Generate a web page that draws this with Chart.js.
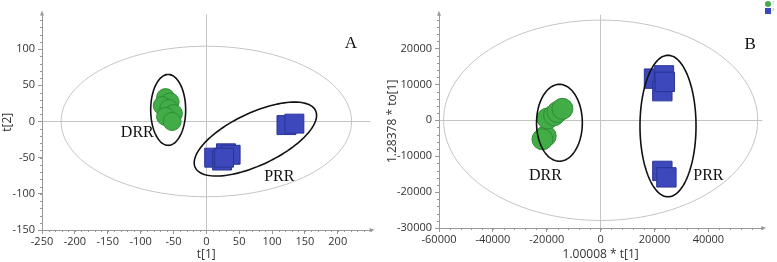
<!DOCTYPE html>
<html>
<head>
<meta charset="utf-8">
<script src="https://cdn.jsdelivr.net/npm/chart.js@4.4.0/dist/chart.umd.min.js"></script>
<style>
  body { margin: 0; background: #fff; }
  #wrap { position: relative; width: 777px; height: 262px; }
  #scoreA { position: absolute; left: 0; top: 0; }
  #scoreB { position: absolute; left: 385px; top: 0; }
</style>
</head>
<body>
<div id="wrap">
  <canvas id="scoreA" width="385" height="262"></canvas>
  <canvas id="scoreB" width="392" height="262"></canvas>
</div>
<script>
// panel A (PCA scores)
const drrT1A = [-62, -55, -67, -57, -50, -62, -52];
const drrT2A = [33, 27, 22, 18, 11, 7, 0];
const prrT1A = [12, 24, 30, 37, 27, 122, 134];
const prrT2A = [-50, -54, -44, -46, -50, -5, -3];
const ticksXA = [-250, -200, -150, -100, -50, 0, 50, 100, 150, 200];
const ticksYA = [-150, -100, -50, 0, 50, 100];

// panel B (OPLS-DA scores)
const drrT1B = [-20400, -21600, -19700, -17300, -16000, -14200];
const drrT2B = [-4400, -5300, 500, 1400, 2300, 3200];
const prrT1B = [19800, 23500, 22900, 23800, 22900, 24400];
const prrT2B = [11600, 12500, 8100, 10700, -14100, -15900];
const ticksXB = [-60000, -40000, -20000, 0, 20000, 40000];
const ticksYB = [-30000, -20000, -10000, 0, 10000, 20000];

const groupNames = ['1', '2'];
const groupLabels = ['DRR', 'PRR'];

const green = 'rgb(66,172,70)';
const greenEdge = 'rgb(48,140,55)';
const blue = 'rgb(60,72,188)';
const blueEdge = 'rgb(42,52,150)';
const axisGrey = '#999';
const tickFont = { family: 'Open Sans', size: 11 };

function pts(xs, ys) {
  return xs.map((x, i) => ({ x: x, y: ys[i] }));
}

function ellipse(ctx, chart, e) {
  const xs = chart.scales.x, ys = chart.scales.y;
  ctx.beginPath();
  for (let i = 0; i <= 120; i++) {
    const t = i / 120 * Math.PI * 2;
    const dx = e.c[0] + e.u[0] * Math.cos(t) + e.v[0] * Math.sin(t);
    const dy = e.c[1] + e.u[1] * Math.cos(t) + e.v[1] * Math.sin(t);
    const px = xs.getPixelForValue(dx), py = ys.getPixelForValue(dy);
    if (i === 0) ctx.moveTo(px, py); else ctx.lineTo(px, py);
  }
  ctx.closePath();
  ctx.stroke();
}

const overlay = {
  id: 'overlay',
  beforeDatasetsDraw(chart, args, o) {
    const ctx = chart.ctx, a = chart.chartArea;
    const xs = chart.scales.x, ys = chart.scales.y;
    ctx.save();
    // Hotelling T2 ellipse
    ctx.strokeStyle = '#c4c4c4';
    ctx.lineWidth = 1;
    ellipse(ctx, chart, o.hotelling);
    // minor ticks
    ctx.strokeStyle = axisGrey;
    ctx.beginPath();
    for (let v = xs.min; v <= xs.max; v += o.minorX) {
      const p = Math.round(xs.getPixelForValue(v)) + 0.5;
      ctx.moveTo(p, a.bottom); ctx.lineTo(p, a.bottom + 2);
    }
    for (let v = ys.min; v <= ys.max; v += o.minorY) {
      const p = Math.round(ys.getPixelForValue(v)) + 0.5;
      ctx.moveTo(a.left, p); ctx.lineTo(a.left - 2, p);
    }
    ctx.stroke();
    // arrow heads
    ctx.fillStyle = axisGrey;
    ctx.beginPath();
    ctx.moveTo(a.left, a.top - 4); ctx.lineTo(a.left - 2, a.top + 1); ctx.lineTo(a.left + 2, a.top + 1);
    ctx.closePath(); ctx.fill();
    ctx.beginPath();
    ctx.moveTo(a.right + 4, a.bottom); ctx.lineTo(a.right - 1, a.bottom - 2); ctx.lineTo(a.right - 1, a.bottom + 2);
    ctx.closePath(); ctx.fill();
    ctx.restore();
  },
  afterDatasetsDraw(chart, args, o) {
    const ctx = chart.ctx;
    const xs = chart.scales.x, ys = chart.scales.y;
    ctx.save();
    ctx.strokeStyle = '#111';
    ctx.lineWidth = 1.6;
    o.groups.forEach(g => ellipse(ctx, chart, g));
    ctx.fillStyle = '#111';
    ctx.textAlign = 'center';
    ctx.textBaseline = 'middle';
    ctx.font = '16px "Liberation Serif"';
    o.texts.forEach(t => ctx.fillText(t.s, xs.getPixelForValue(t.x), ys.getPixelForValue(t.y)));
    ctx.font = '17px "Liberation Serif"';
    ctx.fillText(o.panel.s, xs.getPixelForValue(o.panel.x), ys.getPixelForValue(o.panel.y));
    if (o.legend) {
      const w = chart.width;
      ctx.fillStyle = green;
      ctx.beginPath(); ctx.arc(w - 9, 4, 3, 0, Math.PI * 2); ctx.fill();
      ctx.fillStyle = blue;
      ctx.fillRect(w - 12, 8, 6, 6);
      ctx.fillStyle = '#888';
      ctx.font = '4px "Open Sans"';
      ctx.textAlign = 'left';
      ctx.fillText(groupNames[0], w - 5, 3);
      ctx.fillText(groupNames[1], w - 5, 10);
    }
    ctx.restore();
  }
};

function axis(title, min, max, tickVals, fitSize, isY) {
  return {
    type: 'linear',
    min: min,
    max: max,
    border: { color: axisGrey },
    grid: {
      color: c => (c.tick && c.tick.value === 0 ? '#c4c4c4' : 'transparent'),
      tickColor: axisGrey,
      tickLength: 4
    },
    ticks: {
      autoSkip: false,
      maxRotation: 0,
      minRotation: 0,
      color: '#333',
      font: tickFont,
      padding: isY ? 3 : 1,
      callback: v => String(v)
    },
    afterBuildTicks(s) { s.ticks = tickVals.map(v => ({ value: v })); },
    title: { display: true, text: title, color: '#333', font: { family: 'Open Sans', size: 12 }, padding: { top: 0, bottom: 0 } },
    afterFit(s) { if (isY) s.width = fitSize; else s.height = fitSize; }
  };
}

function makeChart(id, sets, radii, scales, pad, ov) {
  return new Chart(document.getElementById(id), {
    type: 'scatter',
    data: {
      datasets: [
        {
          label: groupLabels[0],
          data: sets[0],
          pointStyle: 'circle',
          pointRadius: radii[0],
          backgroundColor: green,
          borderColor: greenEdge,
          borderWidth: 1
        },
        {
          label: groupLabels[1],
          data: sets[1],
          pointStyle: 'rect',
          pointRadius: radii[1],
          backgroundColor: blue,
          borderColor: blueEdge,
          borderWidth: 1
        }
      ]
    },
    options: {
      responsive: false,
      animation: false,
      devicePixelRatio: 1,
      layout: { padding: pad },
      plugins: { legend: { display: false }, tooltip: { enabled: false }, overlay: ov },
      scales: scales
    },
    plugins: [overlay]
  });
}

const chartA = makeChart('scoreA',
  [pts(drrT1A, drrT2A), pts(prrT1A, prrT2A)],
  [9, 13.4],
  {
    x: axis('t[1]', -250, 250, ticksXA, 32, false),
    y: axis('t[2]', -150, 148, ticksYA, 42, true)
  },
  { top: 5, right: 8, left: 0, bottom: 0 },
  {
    hotelling: { c: [0, 0], u: [221, 0], v: [0, 104] },
    minorX: 10, minorY: 10,
    groups: [
      { c: [-58, 16], u: [26.6, 0], v: [0, 49] },
      { c: [74.7, -24.3], u: [91.4, 39.6], v: [-17.7, 32.3] }
    ],
    texts: [
      { s: groupLabels[0], x: -105, y: -15 },
      { s: groupLabels[1], x: 111, y: -77 }
    ],
    panel: { s: 'A', x: 220, y: 108 },
    legend: false
  });

const chartB = makeChart('scoreB',
  [pts(drrT1B, drrT2B), pts(prrT1B, prrT2B)],
  [10.5, 13.7],
  {
    x: axis('1.00008 * t[1]', -60000, 60000, ticksXB, 34, false),
    y: axis('1.28378 * to[1]', -30000, 29400, ticksYB, 54, true)
  },
  { top: 5, right: 14, left: 0, bottom: 0 },
  {
    hotelling: { c: [0, 0], u: [58300, 0], v: [0, 27900] },
    minorX: 4000, minorY: 2000,
    groups: [
      { c: [-15300, -700], u: [8500, 0], v: [0, 10700] },
      { c: [25000, -1600], u: [10400, 0], v: [0, 19700] }
    ],
    texts: [
      { s: groupLabels[0], x: -20500, y: -15400 },
      { s: groupLabels[1], x: 40000, y: -15400 }
    ],
    panel: { s: 'B', x: 55500, y: 21100 },
    legend: true
  });
</script>
</body>
</html>
